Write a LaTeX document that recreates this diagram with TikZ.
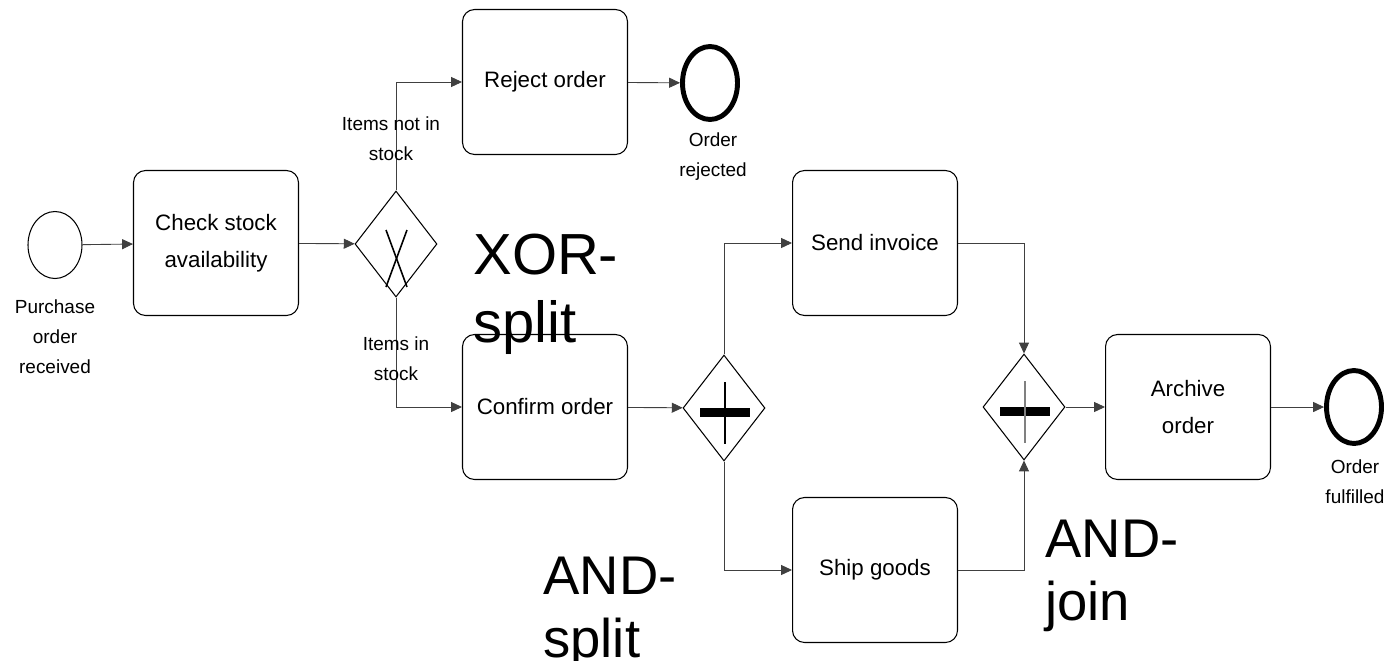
\documentclass[tikz,border=0pt]{standalone}
\usepackage{fontspec}
\setmainfont{Liberation Sans}
\usepackage{tikz}
\usetikzlibrary{shapes.geometric}
\usetikzlibrary{arrows.meta,calc}
\tikzstyle{task}=[draw,line width=0.6pt,rounded corners=0.24cm,minimum width=3.3cm,minimum height=2.9cm,align=center,font=\fontsize{12.7}{21}\selectfont]
\tikzstyle{gate}=[draw,diamond,line width=0.6pt,inner sep=0pt,minimum width=1.64cm,minimum height=2.12cm]
\tikzstyle{startev}=[draw,ellipse,line width=0.6pt,inner sep=0pt,minimum width=1.08cm,minimum height=1.34cm]
\tikzstyle{endev}=[draw,ellipse,line width=2.8pt,inner sep=0pt,minimum width=1.1cm,minimum height=1.46cm]
\tikzstyle{flow}=[-{Triangle[length=6.2pt,width=5.7pt]},line width=0.5pt,draw=black!75]
\tikzstyle{lbl}=[align=center,font=\fontsize{10.8}{17}\selectfont]
\tikzstyle{big}=[anchor=west,align=left,inner sep=0pt,font=\fontsize{31}{36}\selectfont]

\begin{document}
\begin{tikzpicture}[x=0.02cm,y=-0.02cm]
\useasboundingbox (0,0) rectangle (1389,660);
\node[startev] (start) at (55,245) {};
\node[task] (check) at (216,243) {Check stock\\availability};
\node[gate] (xor) at (396,244) {};
\node[task] (reject) at (545,82) {Reject order};
\node[endev] (endrej) at (710,83) {};
\node[task] (confirm) at (545,407) {Confirm order};
\node[gate] (andsplit) at (724,408) {};
\node[task] (send) at (875,243) {Send invoice};
\node[task] (ship) at (875,570) {Ship goods};
\node[gate] (andjoin) at (1024,407) {};
\node[task] (archive) at (1188,407) {Archive\\order};
\node[endev] (endok) at (1354,407) {};
\draw[line width=0.9pt] ($(xor)+(-10,-14)$) -- ($(xor)+(11,43)$);
\draw[line width=0.9pt] ($(xor)+(11,-14)$) -- ($(xor)+(-10,43)$);
\foreach \g/\c in {andsplit/black,andjoin/gray} {
	\fill ($(\g)+(-24,0)$) rectangle ($(\g)+(26,9)$);
	\draw[\c,line width=0.6pt] ($(\g)+(1,-26)$) -- ($(\g)+(1,36)$);
}
\draw[flow] (start) -- (check);
\draw[flow] (check) -- (xor);
\draw[flow] (xor.north) |- (reject.west);
\draw[flow] (xor.south) |- (confirm.west);
\draw[flow] (reject) -- (endrej);
\draw[flow] (confirm) -- (andsplit);
\draw[flow] (andsplit.north) |- (send.west);
\draw[flow] (andsplit.south) |- (ship.west);
\draw[flow] (send.east) -| (andjoin.north);
\draw[flow] (ship.east) -| (andjoin.south);
\draw[flow] (andjoin) -- (archive);
\draw[flow] (archive) -- (endok);
\node[lbl] (lstart) at (55,337) {Purchase\\order\\received};
\node[lbl] (lrej) at (713,157) {Order\\rejected};
\node[lbl] (lok) at (1355,482) {Order\\fulfilled};
\node[lbl] (lnot) at (391,139) {Items not in\\stock};
\node[lbl] (lin) at (396,359) {Items in\\stock};
\node[big,font=\fontsize{33}{38.5}\selectfont] (bxor) at (473,294) {XOR-\\split};
\node[big] (bsplit) at (543,613) {AND-\\split};
\node[big] (bjoin) at (1045,576) {AND-\\join};
\end{tikzpicture}
\end{document}
